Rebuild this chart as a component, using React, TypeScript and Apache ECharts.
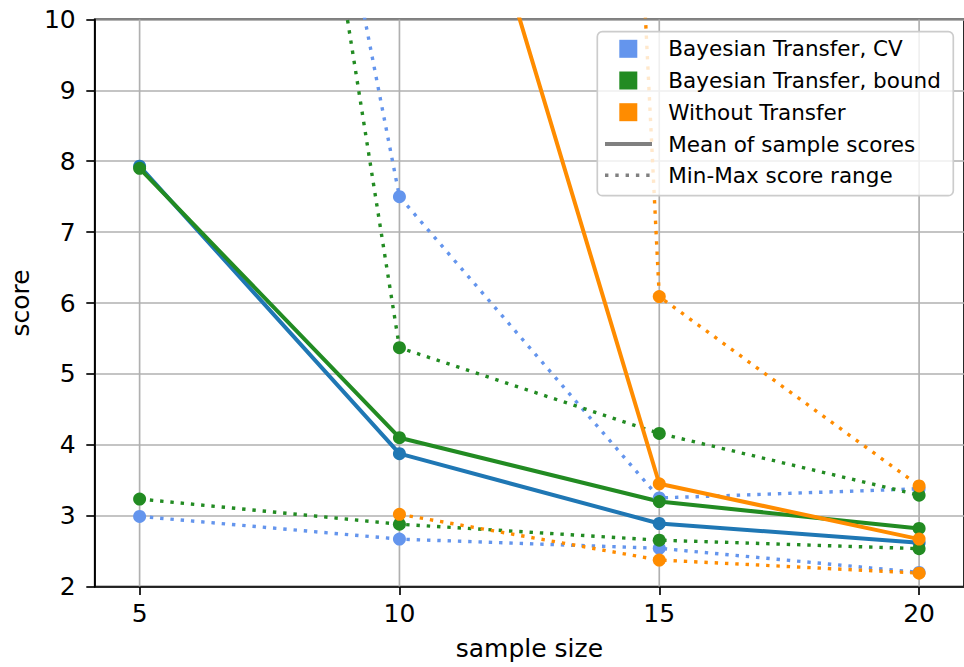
import React, { useEffect, useRef } from "react";
import * as echarts from "echarts";

const sampleSizes = [5, 10, 15, 20];
const xTicks = [5, 10, 15, 20];

const cvMean = [7.93, 3.875, 2.89, 2.62];
const cvMin = [2.99, 2.67, 2.54, 2.2];
const cvMax = [26.3, 7.5, 3.25, 3.38];

const boundMean = [7.9, 4.1, 3.2, 2.82];
const boundMin = [3.235, 2.88, 2.655, 2.535];
const boundMax = [28.5, 5.37, 4.16, 3.29];

const noTransferMean = [null, 15.65, 3.45, 2.67];
const noTransferMin = [null, 3.02, 2.375, 2.19];
const noTransferMax = [null, 80, 6.09, 3.42];

const legendLabels = [
  "Bayesian Transfer, CV",
  "Bayesian Transfer, bound",
  "Without Transfer",
  "Mean of sample scores",
  "Min-Max score range",
];

const C_CV = "#6495ED";
const C_CV_MEAN = "#1f77b4";
const C_BOUND = "#228B22";
const C_NT = "#FF8C00";
const FONT = '"DejaVu Sans", sans-serif';

const pairs = (ys: (number | null)[]) =>
  sampleSizes.map((x, i) => [x, ys[i] === null ? "-" : ys[i]]);

const meanSeries = (name: string, ys: (number | null)[], color: string) => ({
  name,
  type: "line",
  data: pairs(ys),
  symbol: "circle",
  symbolSize: 13,
  showSymbol: true,
  lineStyle: { color, width: 4 },
  itemStyle: { color },
  z: 3,
});

const rangeSeries = (name: string, ys: (number | null)[], color: string) => ({
  name,
  type: "line",
  data: pairs(ys),
  symbol: "circle",
  symbolSize: 13,
  showSymbol: true,
  lineStyle: { color, width: 3.4, type: [3.4, 6.9] },
  itemStyle: { color },
  z: 3,
});

export default function App() {
  const ref = useRef<HTMLDivElement>(null);
  useEffect(() => {
    if (!ref.current) return;
    const chart = echarts.init(ref.current, null, { renderer: "svg" });

    const gridSeries = xTicks.map((x) => ({
      type: "line",
      data: [
        [x, 2],
        [x, 10],
      ],
      symbol: "none",
      silent: true,
      lineStyle: { color: "#b0b0b0", width: 1.67 },
      z: 1,
    }));

    const legendX = 597.3;
    const legendY = 31.7;
    const rowYs = [48.8, 80.5, 112.2, 144, 175.3];
    const squareColors = [C_CV, C_BOUND, C_NT];

    const graphics: any[] = [
      {
        type: "rect",
        shape: { x: legendX, y: legendY, width: 356, height: 164, r: 5 },
        style: { fill: "rgba(255,255,255,0.8)", stroke: "#cccccc", lineWidth: 1.67 },
        z: 10,
      },
    ];
    squareColors.forEach((c, i) => {
      graphics.push({
        type: "rect",
        shape: { x: 619.3, y: rowYs[i] - 9, width: 18, height: 18 },
        style: { fill: c },
        z: 11,
      });
    });
    graphics.push({
      type: "line",
      shape: { x1: 605, y1: rowYs[3], x2: 652, y2: rowYs[3] },
      style: { stroke: "#808080", lineWidth: 4 },
      z: 11,
    });
    graphics.push({
      type: "line",
      shape: { x1: 605, y1: rowYs[4], x2: 652, y2: rowYs[4] },
      style: { stroke: "#808080", lineWidth: 3.4, lineDash: [3.4, 6.9] },
      z: 11,
    });
    legendLabels.forEach((t, i) => {
      graphics.push({
        type: "text",
        x: 668.3,
        y: rowYs[i],
        style: {
          text: t,
          fill: "#000",
          fontSize: 21.5,
          fontFamily: FONT,
          verticalAlign: "middle",
          align: "left",
        },
        z: 11,
      });
    });

    chart.setOption({
      animation: false,
      grid: {
        left: 93.3,
        right: -0.3,
        top: 19.4,
        bottom: 80.4,
        show: true,
        borderColor: "#000",
        borderWidth: 1.67,
        backgroundColor: "transparent",
      },
      xAxis: {
        type: "value",
        min: 4.136,
        max: 20.864,
        name: "sample size",
        nameLocation: "middle",
        nameGap: 49,
        nameTextStyle: { fontSize: 25, fontFamily: FONT, color: "#000" },
        axisLine: { show: true, lineStyle: { color: "#000", width: 1.67 } },
        axisTick: {
          show: true,
          customValues: xTicks,
          length: 8.4,
          lineStyle: { color: "#000", width: 1.67 },
        },
        axisLabel: {
          customValues: xTicks,
          fontSize: 25,
          fontFamily: FONT,
          color: "#000",
          margin: 14,
        },
        splitLine: { show: false },
      },
      yAxis: {
        type: "value",
        min: 2,
        max: 10,
        interval: 1,
        name: "score",
        nameLocation: "middle",
        nameGap: 60,
        nameTextStyle: { fontSize: 25, fontFamily: FONT, color: "#000" },
        axisLine: { show: true, lineStyle: { color: "#000", width: 1.67 } },
        axisTick: { show: true, length: 8.4, lineStyle: { color: "#000", width: 1.67 } },
        axisLabel: { fontSize: 25, fontFamily: FONT, color: "#000", margin: 19 },
        splitLine: { show: true, lineStyle: { color: "#b0b0b0", width: 1.67 } },
      },
      graphic: graphics,
      series: [
        ...gridSeries,
        meanSeries("CV mean", cvMean, C_CV_MEAN),
        rangeSeries("CV min", cvMin, C_CV),
        rangeSeries("CV max", cvMax, C_CV),
        meanSeries("Bound mean", boundMean, C_BOUND),
        rangeSeries("Bound min", boundMin, C_BOUND),
        rangeSeries("Bound max", boundMax, C_BOUND),
        meanSeries("No transfer mean", noTransferMean, C_NT),
        rangeSeries("No transfer min", noTransferMin, C_NT),
        rangeSeries("No transfer max", noTransferMax, C_NT),
      ],
    });
    return () => chart.dispose();
  }, []);

  return (
    <div
      ref={ref}
      style={{ position: "fixed", left: 0, top: 0, width: 964, height: 667, background: "#fff" }}
    />
  );
}
